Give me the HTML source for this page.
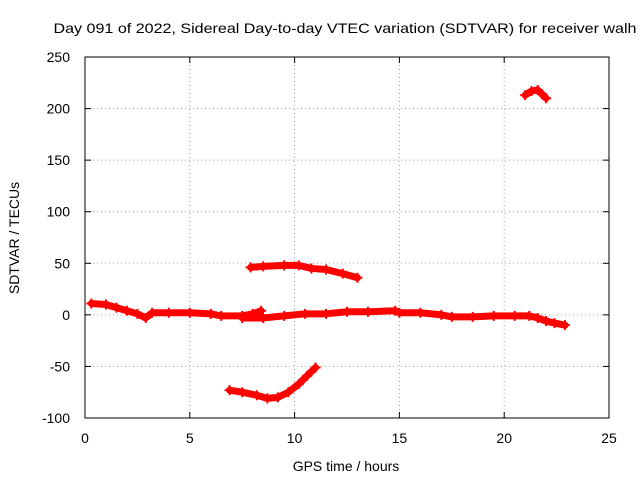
<!DOCTYPE html>
<html><head><meta charset="utf-8"><style>
html,body{margin:0;padding:0;background:#fff}
svg{display:block;font-family:"Liberation Sans",sans-serif}
</style></head><body>
<svg id="chart" width="640" height="480">
<rect x="0" y="0" width="640" height="480" fill="#fff"/>
<g id="grid"></g>
<g id="series"></g>
<rect x="85" y="57" width="524" height="361" fill="none" stroke="#000" stroke-width="1"/>
<g id="ticks"></g>
<text x="345" y="33" text-anchor="middle" font-size="14" textLength="583" lengthAdjust="spacingAndGlyphs">Day 091 of 2022, Sidereal Day-to-day VTEC variation (SDTVAR) for receiver walh</text>
<text x="346" y="471" text-anchor="middle" font-size="14">GPS time / hours</text>
<text transform="translate(19,238) rotate(-90)" text-anchor="middle" font-size="14">SDTVAR / TECUs</text>
</svg>
<script>
const xTicks=[0,5,10,15,20,25];
const yTicks=[-100,-50,0,50,100,150,200,250];
const seriesA=[[0.3,11],[1,10],[1.5,7],[2,4],[2.5,1],[2.9,-3],[3.2,2],[4,2],[5,2],[6,1],[6.5,-1],[7.5,-1],[8,1],[8.4,4]];
const seriesB=[[7.5,-3],[8.5,-3],[9.5,-1],[10.5,1],[11.5,1],[12.5,3],[13.5,3],[14.8,4],[15,2],[16,2],[17,0],[17.5,-2],[18.5,-2],[19.5,-1],[20.5,-1],[21.2,-1],[21.6,-3],[22,-6],[22.4,-8],[22.9,-10]];
const seriesC=[[7.9,46],[8.5,47],[9.5,48],[10.2,48],[10.8,45],[11.5,44],[12.3,40],[13,36]];
const seriesD=[[6.9,-73],[7.5,-75],[8.2,-78],[8.7,-81],[9.2,-80],[9.7,-75],[10.2,-67],[10.6,-59],[11,-51]];
const seriesE=[[21.0,213],[21.3,217],[21.6,218],[21.8,214],[22.0,210]];
const NS="http://www.w3.org/2000/svg";
const X0=85,X1=609,Y0=418,Y1=57;
function xs(v){return X0+(v-0)/(25-0)*(X1-X0);}
function ys(v){return Y0-(v+100)/(350)*(Y0-Y1);}
function mk(tag,attrs,parent){const e=document.createElementNS(NS,tag);for(const k in attrs)e.setAttribute(k,attrs[k]);parent.appendChild(e);return e;}
const grid=document.getElementById('grid'),ticks=document.getElementById('ticks'),ser=document.getElementById('series');
xTicks.forEach(t=>{const x=xs(t);
 if(t>0&&t<25){const g=mk('line',{x1:x,x2:x,y1:Y1,y2:Y0,stroke:'#a0a0a0','stroke-dasharray':'1,3'},grid);
 
 }
 const a=mk('line',{x1:x,x2:x,y1:Y0,y2:Y0-6,stroke:'#000'},ticks);
 
 
 const b=mk('line',{x1:x,x2:x,y1:Y1,y2:Y1+6,stroke:'#000'},ticks);
 
 
 const l=mk('text',{x:x,y:443,'text-anchor':'middle','font-size':14},ticks);l.textContent=t;
 
 
});
yTicks.forEach(t=>{const y=ys(t);
 if(t>-100&&t<250){const g=mk('line',{x1:X0,x2:X1,y1:y,y2:y,stroke:'#a0a0a0','stroke-dasharray':'1,3'},grid);
 
 }
 const a=mk('line',{x1:X0,x2:X0+6,y1:y,y2:y,stroke:'#000'},ticks);
 
 
 const b=mk('line',{x1:X1,x2:X1-6,y1:y,y2:y,stroke:'#000'},ticks);
 
 
 const l=mk('text',{x:70,y:y+5,'text-anchor':'end','font-size':14},ticks);l.textContent=t;
 
 
});
[seriesA,seriesB,seriesC,seriesD,seriesE].forEach((s,i)=>{
 const p=mk('polyline',{points:s.map(d=>xs(d[0])+','+ys(d[1])).join(' '),fill:'none',stroke:'#f00','stroke-width':7,'stroke-linejoin':'round','stroke-linecap':'round'},ser);
 
 
 s.forEach(d=>{const x=xs(d[0]),y=ys(d[1]);
  const m=mk('path',{d:`M${x-5},${y}H${x+5}M${x},${y-5}V${y+5}`,stroke:'#f00','stroke-width':2},ser);
  
  
 });
});
</script>
</body></html>
